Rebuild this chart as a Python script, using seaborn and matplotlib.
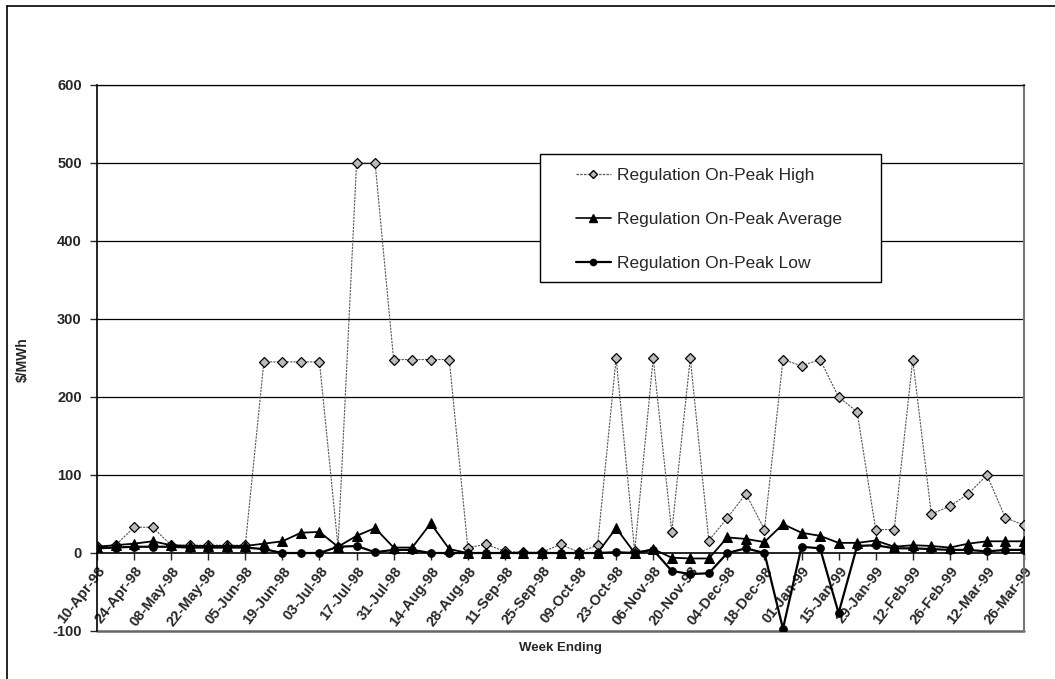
import matplotlib
matplotlib.use("Agg")
import matplotlib.pyplot as plt
import matplotlib.lines as mlines
import matplotlib.patches as mpatches
import seaborn as sns
import pandas as pd
import numpy as np

# ---- data ----
weeks = pd.date_range("1998-04-10", periods=51, freq="7D")
week_labels = [d.strftime("%d-%b-%y") for d in weeks]

high = [9, 10, 33, 33, 10, 10, 10, 10, 10, 245, 245, 245, 245, 8, 500, 500,
        248, 248, 248, 248, 7, 11, 2, 1, 1, 11, 1, 10, 250, 2, 250, 27,
        250, 16, 45, 76, 30, 248, 240, 248, 200, 181, 30, 30, 248, 50, 60,
        76, 100, 45, 36]
average = [8, 10, 12, 15, 10, 9, 9, 9, 9, 12, 15, 26, 27, 8, 22, 32,
           7, 7, 38, 5, 0, 0, 0, 0, 0, 0, 0, 0, 32, 0, 5, -6,
           -7, -7, 20, 18, 14, 37, 26, 22, 13, 13, 16, 8, 10, 9, 7,
           12, 15, 15, 15]
low = [6, 7, 8, 8, 8, 7, 7, 7, 7, 5, 0, 0, 0, 8, 9, 1,
       4, 4, 0, 0, 0, 0, 0, 0, 0, 0, 0, 0, 1, 0, 4, -23,
       -27, -26, 0, 6, 0, -97, 8, 6, -77, 9, 10, 6, 6, 5, 4,
       4, 2, 4, 4]

series_names = ["Regulation On-Peak High", "Regulation On-Peak Average",
                "Regulation On-Peak Low"]
y_ticks = [-100, 0, 100, 200, 300, 400, 500, 600]

df = pd.DataFrame({"idx": np.arange(len(week_labels)), "week": week_labels,
                   "high": high, "average": average, "low": low})

sns.set_style("white")
plt.rcParams["font.family"] = ["Liberation Sans", "DejaVu Sans"]

W, H = 1055, 679
fig = plt.figure(figsize=(W / 100, H / 100), dpi=100)
ax = fig.add_axes([97 / W, 48 / H, 927 / W, 546 / H])

# gridlines
for v in y_ticks[2:]:
    ax.axhline(v, color="black", lw=0.9, zorder=1)

sns.lineplot(data=df, x="idx", y="high", ax=ax, color="#555555", lw=0.8,
             linestyle=(0, (2, 1)), marker="D", markersize=5,
             markerfacecolor="#bbbbbb", markeredgecolor="black",
             markeredgewidth=0.9, zorder=3)
sns.lineplot(data=df, x="idx", y="average", ax=ax, color="black", lw=1.3,
             marker="^", markersize=7, markerfacecolor="black",
             markeredgecolor="black", zorder=4)
sns.lineplot(data=df, x="idx", y="low", ax=ax, color="black", lw=1.6,
             marker="o", markersize=5.5, markerfacecolor="black",
             markeredgecolor="black", zorder=5)

ax.set_xlim(0, len(week_labels) - 1)
ax.set_ylim(-100, 600)

# x axis crosses at zero
ax.spines["bottom"].set_position(("data", 0))
ax.spines["bottom"].set_color("black")
ax.spines["bottom"].set_linewidth(1.2)
ax.spines["left"].set_color("black")
ax.spines["left"].set_linewidth(1.2)
ax.spines["top"].set_color("black")
ax.spines["top"].set_linewidth(0.9)
ax.spines["right"].set_color("#777777")
ax.spines["right"].set_linewidth(1.5)
ax.axhline(-100, color="#666666", lw=1.8, clip_on=False, zorder=2)

ax.set_yticks(y_ticks)
ax.set_yticklabels([str(v) for v in y_ticks], fontsize=10.5, fontweight="bold")
ax.tick_params(axis="y", direction="out", length=5, width=1, pad=6, left=True)

xt = list(range(0, len(week_labels), 2))
ax.set_xticks(xt)
ax.set_xticklabels([week_labels[i] for i in xt], rotation=52, ha="right",
                   va="top", rotation_mode="anchor", fontsize=10.5,
                   fontweight="bold")
ax.tick_params(axis="x", direction="out", length=5, width=1, pad=3, bottom=True)

ax.set_xlabel("")
ax.set_ylabel("")
fig.text(0.531, 0.045, "Week Ending", ha="center", va="center",
         fontsize=9.5, fontweight="bold")
fig.text(0.022, 0.47, "$/MWh", ha="center", va="center", rotation=90,
         fontsize=10, fontweight="bold")

# legend box
fig.add_artist(mpatches.Rectangle((540 / W, 1 - 282 / H), 341 / W, 128 / H,
                                  transform=fig.transFigure, facecolor="white",
                                  edgecolor="black", lw=1.0, zorder=9))
handles = [
    mlines.Line2D([], [], color="#555555", lw=0.9, linestyle=(0, (2, 1)),
                  marker="D", markersize=4, markerfacecolor="#bbbbbb",
                  markeredgecolor="black"),
    mlines.Line2D([], [], color="black", lw=1.2, marker="^", markersize=6),
    mlines.Line2D([], [], color="black", lw=1.6, marker="o", markersize=4.5),
]
leg = fig.legend(handles, series_names, loc="upper left",
                 bbox_to_anchor=(576 / W, 1 - 168 / H),
                 frameon=False, fontsize=12.5,
                 handlelength=2.0, handletextpad=0.35, labelspacing=1.65,
                 borderpad=0, borderaxespad=0)
leg.set_zorder(10)

# outer chart border (left and top)
fig.add_artist(mlines.Line2D([7 / W, 7 / W], [0, 1 - 6 / H],
                             color="black", lw=1.2))
fig.add_artist(mlines.Line2D([7 / W, 1.0], [1 - 6 / H, 1 - 6 / H],
                             color="black", lw=1.2))

fig.savefig("out.png", dpi=100)
